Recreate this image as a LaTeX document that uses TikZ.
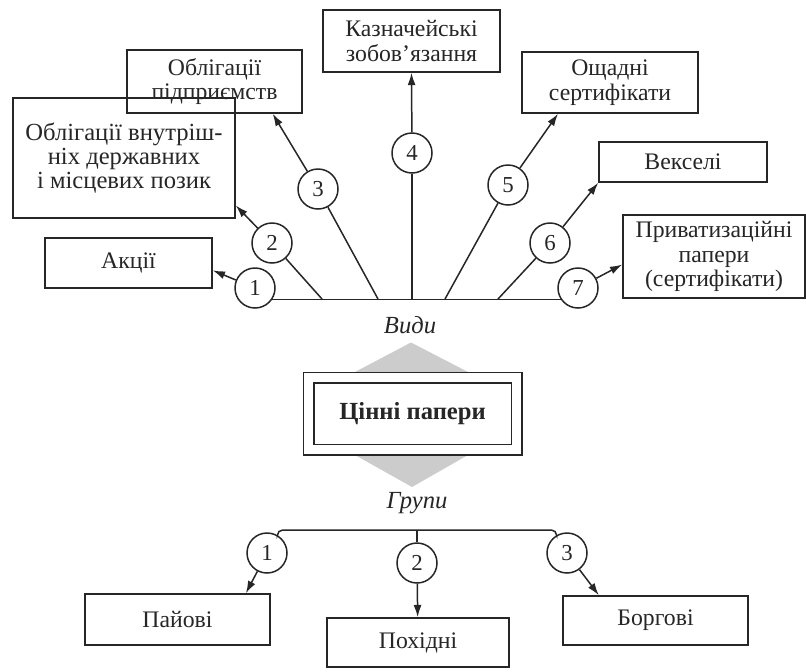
\documentclass[tikz,border=0pt]{standalone}
\usepackage{fontspec}
\setmainfont{Liberation Serif}
\usetikzlibrary{positioning,arrows.meta}

\begin{document}
\begin{tikzpicture}[>={Latex[length=7pt,width=4.5pt]}, line width=0.85pt, color=black!85,
  vbox/.style={draw, rectangle, align=center, inner sep=1pt, font=\fontsize{13.5}{14}\selectfont},
  num/.style={draw, circle, minimum size=0.8cm, inner sep=0pt, fill=white, font=\fontsize{13}{13}\selectfont},
  lbl/.style={font=\fontsize{14}{14}\selectfont\itshape}]
  \useasboundingbox[fill=white] (0,0) rectangle (16.12,-13.42);

  \node (kaz) [vbox, minimum width=3.54cm, minimum height=1.24cm] at (8.23,-0.82) {Казначейські\\зобов’язання};
  \node (obpid) [vbox, minimum width=3.5cm, minimum height=1.26cm] at (4.29,-1.63) {Облігації\\підприємств};
  \node (oshch) [vbox, minimum width=3.52cm, minimum height=1.22cm] at (12.2,-1.65) {Ощадні\\сертифікати};
  \node (obvn) [vbox, minimum width=4.44cm, minimum height=2.4cm, font=\fontsize{14}{13.5}\selectfont] at (2.48,-3.16) {Облігації внутріш-\\ніх державних\\і місцевих позик};
  \node (akcii) [vbox, minimum width=3.34cm, minimum height=1.0cm] at (2.57,-5.26) {Акції};
  \node (veks) [vbox, minimum width=3.36cm, minimum height=0.8cm] at (13.66,-3.24) {Векселі};
  \node (pryv) [vbox, minimum width=3.64cm, minimum height=1.66cm] at (14.28,-5.13) {Приватизаційні\\папери\\(сертифікати)};

  \node (c1) [num] at (5.10,-5.76) {1};
  \node (c2) [num] at (5.44,-4.86) {2};
  \node (c3) [num] at (6.36,-3.78) {3};
  \node (c4) [num] at (8.24,-3.06) {4};
  \node (c5) [num] at (10.16,-3.70) {5};
  \node (c6) [num] at (11.0,-4.86) {6};
  \node (c7) [num] at (11.56,-5.76) {7};

  \coordinate (b2) at (6.44,-5.98);
  \coordinate (b3) at (7.56,-5.98);
  \coordinate (b4) at (8.24,-5.98);
  \coordinate (b5) at (8.90,-5.98);
  \coordinate (b6) at (9.96,-5.98);

  \draw (c1.-33) -- (c7.213);
  \draw[->] (c1) -- (akcii.-5);
  \draw (b2) -- (c2);
  \draw[->] (c2) -- (obvn.-23);
  \draw (b3) -- (c3);
  \draw[->] (c3) -- (obpid.-29);
  \draw (b4) -- (c4);
  \draw[->] (c4) -- (kaz.south);
  \draw (b5) -- (c5);
  \draw[->] (c5) -- (oshch.211);
  \draw (b6) -- (c6);
  \draw[->] (c6) -- (veks.south west);
  \draw[->] (c7) -- (pryv.185);

  \node (vydy) [lbl] at (8.2,-6.5) {Види};

  \fill[gray!40] (8.22,-6.85) -- (9.36,-7.44) -- (9.36,-9.1) -- (8.24,-9.74) -- (7.1,-9.1) -- (7.1,-7.44) -- cycle;
  \node (main) [draw, double, double distance=0.18cm, fill=white, minimum width=4.16cm, minimum height=1.44cm, font=\fontsize{14}{14}\selectfont\bfseries] at (8.25,-8.27) {Цінні папери};

  \node (grupy) [lbl] at (8.34,-10.06) {Групи};

  \node (g1) [num] at (5.34,-11.06) {1};
  \node (g2) [num] at (8.34,-11.26) {2};
  \node (g3) [num] at (11.34,-11.06) {3};

  \node (pay) [vbox, minimum width=3.7cm, minimum height=1.02cm] at (3.55,-12.39) {Пайові};
  \node (pokh) [vbox, minimum width=3.64cm, minimum height=0.98cm] at (8.36,-12.85) {Похідні};
  \node (borh) [vbox, minimum width=3.7cm, minimum height=0.98cm] at (13.11,-12.41) {Боргові};

  \coordinate (bar) at (8.34,-10.6);
  \draw[rounded corners=3pt] (g1.60) |- (bar) -| (g3.120);
  \draw (bar) -- (g2);
  \draw[->] (g1) -- (pay.21);
  \draw[->] (g2) -- (pokh);
  \draw[->] (g3) -- (borh.156);
\end{tikzpicture}
\end{document}
